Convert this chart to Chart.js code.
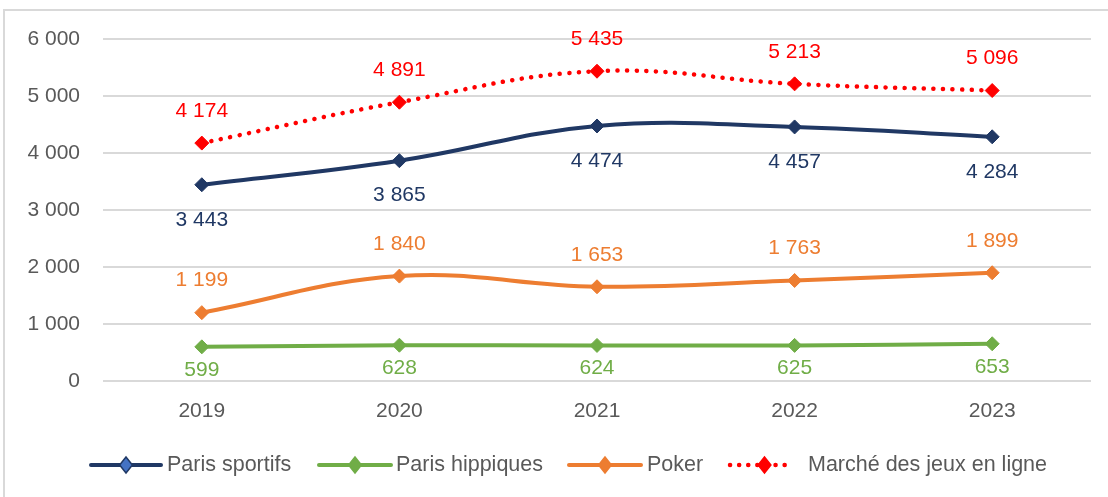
<!DOCTYPE html>
<html>
<head>
<meta charset="utf-8">
<script src="https://cdn.jsdelivr.net/npm/chart.js@4.4.1/dist/chart.umd.min.js"></script>
<style>
  html, body { margin: 0; padding: 0; background: #ffffff; overflow: hidden; }
  #wrap { position: relative; width: 1108px; height: 497px; }
  #frame { position: absolute; left: 3px; top: 9px; width: 1200px; height: 600px;
           border-left: 2px solid #d9d9d9; border-top: 2px solid #d9d9d9; box-sizing: border-box; }
  canvas { position: absolute; left: 0; top: 0; }
</style>
</head>
<body>
<div id="wrap">
  <div id="frame"></div>
  <canvas id="c" width="1108" height="497"></canvas>
</div>
<script>
const categories = ['2019', '2020', '2021', '2022', '2023'];
const parisSportifs = [3443, 3865, 4474, 4457, 4284];
const parisHippiques = [599, 628, 624, 625, 653];
const poker = [1199, 1840, 1653, 1763, 1899];
const marcheEnLigne = [4174, 4891, 5435, 5213, 5096];
const seriesNames = ['Paris sportifs', 'Paris hippiques', 'Poker', 'Marché des jeux en ligne'];

const FONT = "'Liberation Sans', Arial, sans-serif";
const GREY = '#595959';
const NAVY = '#203864';
const GREEN = '#70AD47';
const ORANGE = '#ED7D31';
const RED = '#FF0000';

function fmt(v) {
  return String(v).replace(/\B(?=(\d{3})+(?!\d))/g, ' ');
}

const labelOffsets = [35, 23, -32, -32];
const labelColors = [NAVY, GREEN, ORANGE, RED];

const dataLabels = {
  id: 'dataLabels',
  afterDatasetsDraw(chart) {
    const ctx = chart.ctx;
    ctx.save();
    ctx.font = '21px ' + FONT;
    ctx.textAlign = 'center';
    ctx.textBaseline = 'middle';
    chart.data.datasets.forEach((ds, i) => {
      const meta = chart.getDatasetMeta(i);
      ctx.fillStyle = labelColors[i];
      meta.data.forEach((pt, j) => {
        ctx.fillText(fmt(ds.data[j]), pt.x, pt.y + labelOffsets[i]);
      });
    });
    ctx.restore();
  }
};

const legendItems = [
  { x1: 91, x2: 161, color: NAVY, fill: '#4472C4', dotted: false },
  { x1: 319, x2: 391, color: GREEN, fill: GREEN, dotted: false },
  { x1: 569, x2: 641, color: ORANGE, fill: ORANGE, dotted: false },
  { x1: 730, x2: 789, color: RED, fill: RED, dotted: true }
];
const legendTextX = [167, 396, 647, 808];

const customLegend = {
  id: 'customLegend',
  afterDraw(chart) {
    const ctx = chart.ctx;
    const y = 465;
    ctx.save();
    legendItems.forEach((it, i) => {
      ctx.strokeStyle = it.color;
      ctx.lineWidth = 4;
      if (it.dotted) {
        ctx.setLineDash([0.1, 9]);
        ctx.lineCap = 'round';
        ctx.lineWidth = 4.5;
      } else {
        ctx.setLineDash([]);
        ctx.lineCap = 'round';
      }
      ctx.beginPath();
      ctx.moveTo(it.x1, y);
      ctx.lineTo(it.x2, y);
      ctx.stroke();
      ctx.setLineDash([]);
      const cx = (it.x1 + it.x2) / 2 + (it.dotted ? 5 : 0);
      const r = 8;
      ctx.beginPath();
      ctx.moveTo(cx, y - r);
      ctx.lineTo(cx + r * 0.8, y);
      ctx.lineTo(cx, y + r);
      ctx.lineTo(cx - r * 0.8, y);
      ctx.closePath();
      ctx.fillStyle = it.fill;
      ctx.fill();
      ctx.lineWidth = 1.5;
      ctx.strokeStyle = it.color;
      ctx.stroke();
      ctx.font = '21.5px ' + FONT;
      ctx.fillStyle = GREY;
      ctx.textAlign = 'left';
      ctx.textBaseline = 'middle';
      ctx.fillText(seriesNames[i], legendTextX[i], y);
    });
    ctx.restore();
  }
};

function ds(label, data, color, dotted) {
  return {
    label: label,
    data: data,
    borderColor: color,
    backgroundColor: color,
    borderWidth: dotted ? 4.5 : 4,
    borderDash: dotted ? [0.1, 9.5] : [],
    borderCapStyle: 'round',
    tension: 0.4,
    pointStyle: 'rectRot',
    pointRadius: 7,
    pointHoverRadius: 7,
    pointBackgroundColor: color,
    pointBorderColor: color,
    pointBorderWidth: 1,
    fill: false
  };
}

new Chart(document.getElementById('c'), {
  type: 'line',
  data: {
    labels: categories,
    datasets: [
      ds(seriesNames[0], parisSportifs, NAVY, false),
      ds(seriesNames[1], parisHippiques, GREEN, false),
      ds(seriesNames[2], poker, ORANGE, false),
      ds(seriesNames[3], marcheEnLigne, RED, true)
    ]
  },
  options: {
    responsive: false,
    animation: false,
    devicePixelRatio: 1,
    layout: { padding: { left: 3, right: 17, top: 39, bottom: 76 } },
    plugins: {
      legend: { display: false },
      tooltip: { enabled: false },
      title: { display: false }
    },
    scales: {
      x: {
        offset: true,
        grid: { display: false, drawTicks: false },
        border: { display: false },
        ticks: { color: GREY, font: { family: FONT, size: 21 }, padding: 18, maxRotation: 0 },
        afterFit(s) { s.height = 40; }
      },
      y: {
        min: 0,
        max: 6000,
        grid: { color: '#d9d9d9', lineWidth: 2, drawTicks: false },
        border: { display: false },
        ticks: {
          stepSize: 1000,
          color: GREY,
          font: { family: FONT, size: 21 },
          padding: 23,
          callback: (v) => fmt(v)
        },
        afterFit(s) { s.width = 100; }
      }
    }
  },
  plugins: [dataLabels, customLegend]
});
</script>
</body>
</html>
